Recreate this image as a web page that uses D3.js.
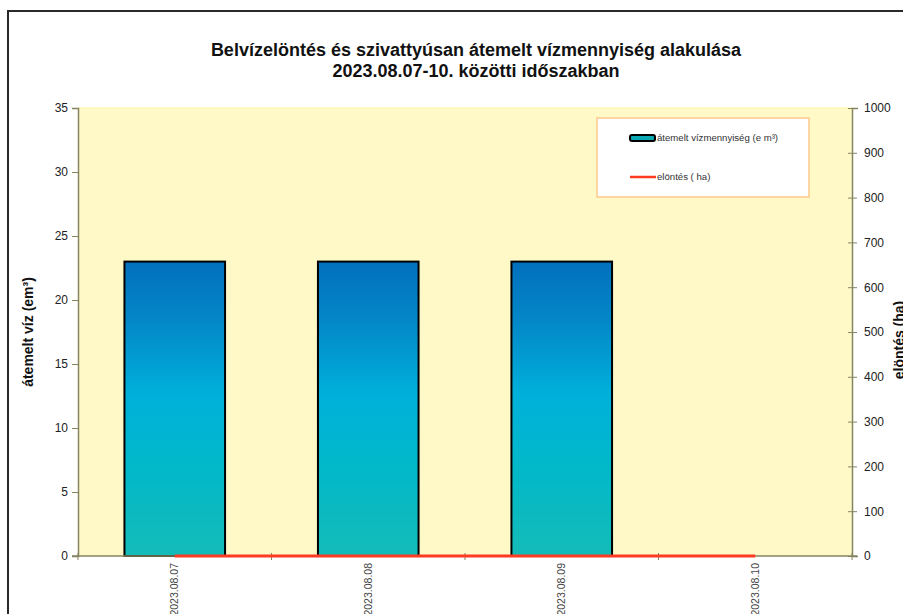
<!DOCTYPE html>
<html><head><meta charset="utf-8">
<script src="https://cdn.jsdelivr.net/npm/d3@7"></script>
<style>body{margin:0;background:#fff;} svg{display:block;font-family:"Liberation Sans",Arial,sans-serif;}</style>
</head><body>
<script>
const categories = ["2023.08.07", "2023.08.08", "2023.08.09", "2023.08.10"];
const pumpedWater = [23, 23, 23, 0];       // átemelt vízmennyiség (e m³)
const flooded = [0, 0, 0, 0];              // elöntés (ha)
const leftTicks = [0, 5, 10, 15, 20, 25, 30, 35];
const rightTicks = [0, 100, 200, 300, 400, 500, 600, 700, 800, 900, 1000];
const titleLines = ["Belvízelöntés és szivattyúsan átemelt vízmennyiség alakulása", "2023.08.07-10. közötti időszakban"];

const W = 903, H = 614;
const m = {left: 78, right: 852, top: 108, bottom: 556};
const svg = d3.select("body").append("svg").attr("width", W).attr("height", H);

const defs = svg.append("defs");
const grad = defs.append("linearGradient").attr("id", "barGrad").attr("x1", 0).attr("y1", 0).attr("x2", 0).attr("y2", 1);
[[0, "#0270bd"], [0.2, "#0387c8"], [0.45, "#00b0da"], [0.7, "#01b8c9"], [1, "#14bcb8"]].forEach(([o, c]) =>
  grad.append("stop").attr("offset", o).attr("stop-color", c));

// outer frame
svg.append("rect").attr("x", 8).attr("y", 11).attr("width", 1000).attr("height", 1000)
  .attr("fill", "none").attr("stroke", "#2a2a2a").attr("stroke-width", 2);

const x = d3.scaleBand().domain(categories).range([m.left, m.right]).paddingInner(0).paddingOuter(0);
const yL = d3.scaleLinear().domain([0, 35]).range([m.bottom, m.top]);
const yR = d3.scaleLinear().domain([0, 1000]).range([m.bottom, m.top]);

// plot area
svg.append("rect").attr("x", m.left).attr("y", m.top).attr("width", m.right - m.left).attr("height", m.bottom - m.top)
  .attr("fill", "#fff9c8").attr("stroke", "none");
svg.append("line").attr("x1", m.left).attr("x2", m.right).attr("y1", m.top).attr("y2", m.top).attr("stroke", "#fff2a0").attr("stroke-width", 1);

const axisColor = "#85855f";

// bars
const barW = x.bandwidth() * 0.52;
svg.append("g").selectAll("rect").data(categories.map((c, i) => ({c, v: pumpedWater[i]})).filter(d => d.v > 0))
  .join("rect")
  .attr("x", d => x(d.c) + x.bandwidth() / 2 - barW / 2)
  .attr("y", d => yL(d.v))
  .attr("width", barW)
  .attr("height", d => yL(0) - yL(d.v))
  .attr("fill", "url(#barGrad)")
  .attr("stroke", "#000").attr("stroke-width", 2);

// left axis
const gL = svg.append("g").attr("transform", `translate(${m.left},0)`)
  .call(d3.axisLeft(yL).tickValues(leftTicks).tickSize(6).tickPadding(4).tickFormat(d3.format("d")));
gL.select(".domain").attr("stroke", axisColor).attr("stroke-width", 1.5);
gL.selectAll(".tick line").attr("stroke", axisColor).attr("x2", -6).attr("x1", 1);
gL.selectAll(".tick text").attr("font-size", 12).attr("fill", "#222").attr("font-family", "Liberation Sans, Arial");

// right axis
const gR = svg.append("g").attr("transform", `translate(${m.right},0)`)
  .call(d3.axisRight(yR).tickValues(rightTicks).tickSize(6).tickPadding(6).tickFormat(d3.format("d")));
gR.select(".domain").attr("stroke", axisColor).attr("stroke-width", 1.5);
gR.selectAll(".tick line").attr("stroke", axisColor).attr("x1", -4).attr("x2", 5);
gR.selectAll(".tick text").attr("font-size", 12).attr("fill", "#222").attr("font-family", "Liberation Sans, Arial");

// bottom axis
const gB = svg.append("g").attr("transform", `translate(0,${m.bottom})`);
gB.append("line").attr("x1", m.left - 6).attr("x2", m.right + 5).attr("stroke", axisColor).attr("stroke-width", 1.5);
const bounds = categories.map(c => x(c)).concat([m.right]);
gB.selectAll("line.tk").data(bounds).join("line").attr("class", "tk")
  .attr("x1", d => d).attr("x2", d => d).attr("y1", -3).attr("y2", 4).attr("stroke", axisColor);
gB.selectAll("text").data(categories).join("text")
  .attr("transform", d => `translate(${x(d) + x.bandwidth() / 2 + 3.5},7) rotate(-90)`)
  .attr("text-anchor", "end").attr("font-size", 10.5).attr("fill", "#444").text(d => d);

// line series
const line = d3.line().x((d, i) => x(categories[i]) + x.bandwidth() / 2).y(d => yR(d));
svg.append("path").datum(flooded).attr("d", line).attr("fill", "none")
  .attr("stroke", "#ff3b22").attr("stroke-width", 3);

// titles
svg.append("text").attr("x", 476).attr("y", 56).attr("text-anchor", "middle").attr("font-size", 18).attr("font-weight", "bold").attr("fill", "#111").text(titleLines[0]);
svg.append("text").attr("x", 476).attr("y", 77).attr("text-anchor", "middle").attr("font-size", 18).attr("font-weight", "bold").attr("fill", "#111").text(titleLines[1]);

svg.append("text").attr("transform", `translate(33,${(m.top + m.bottom) / 2}) rotate(-90)`)
  .attr("text-anchor", "middle").attr("font-size", 14).attr("font-weight", "bold").attr("fill", "#111").text("átemelt víz (em³)");
svg.append("text").attr("transform", `translate(904,${(m.top + m.bottom) / 2 + 8}) rotate(-90)`)
  .attr("text-anchor", "middle").attr("font-size", 14).attr("font-weight", "bold").attr("fill", "#111").text("elöntés (ha)");

// legend
const lg = svg.append("g");
lg.append("rect").attr("x", 597).attr("y", 118).attr("width", 212).attr("height", 79)
  .attr("fill", "#fff").attr("stroke", "#ffc98a").attr("stroke-width", 1.5);
lg.append("rect").attr("x", 630).attr("y", 135).attr("width", 25).attr("height", 6).attr("rx", 2)
  .attr("fill", "#0aa9b4").attr("stroke", "#000").attr("stroke-width", 2);
lg.append("text").attr("x", 657).attr("y", 141).attr("font-size", 9.6).attr("fill", "#333").text("átemelt vízmennyiség (e m³)");
lg.append("line").attr("x1", 630).attr("x2", 656).attr("y1", 177).attr("y2", 177).attr("stroke", "#ff3b22").attr("stroke-width", 2.5);
lg.append("text").attr("x", 657).attr("y", 180).attr("font-size", 9.6).attr("fill", "#333").text("elöntés ( ha)");
</script>
</body></html>
